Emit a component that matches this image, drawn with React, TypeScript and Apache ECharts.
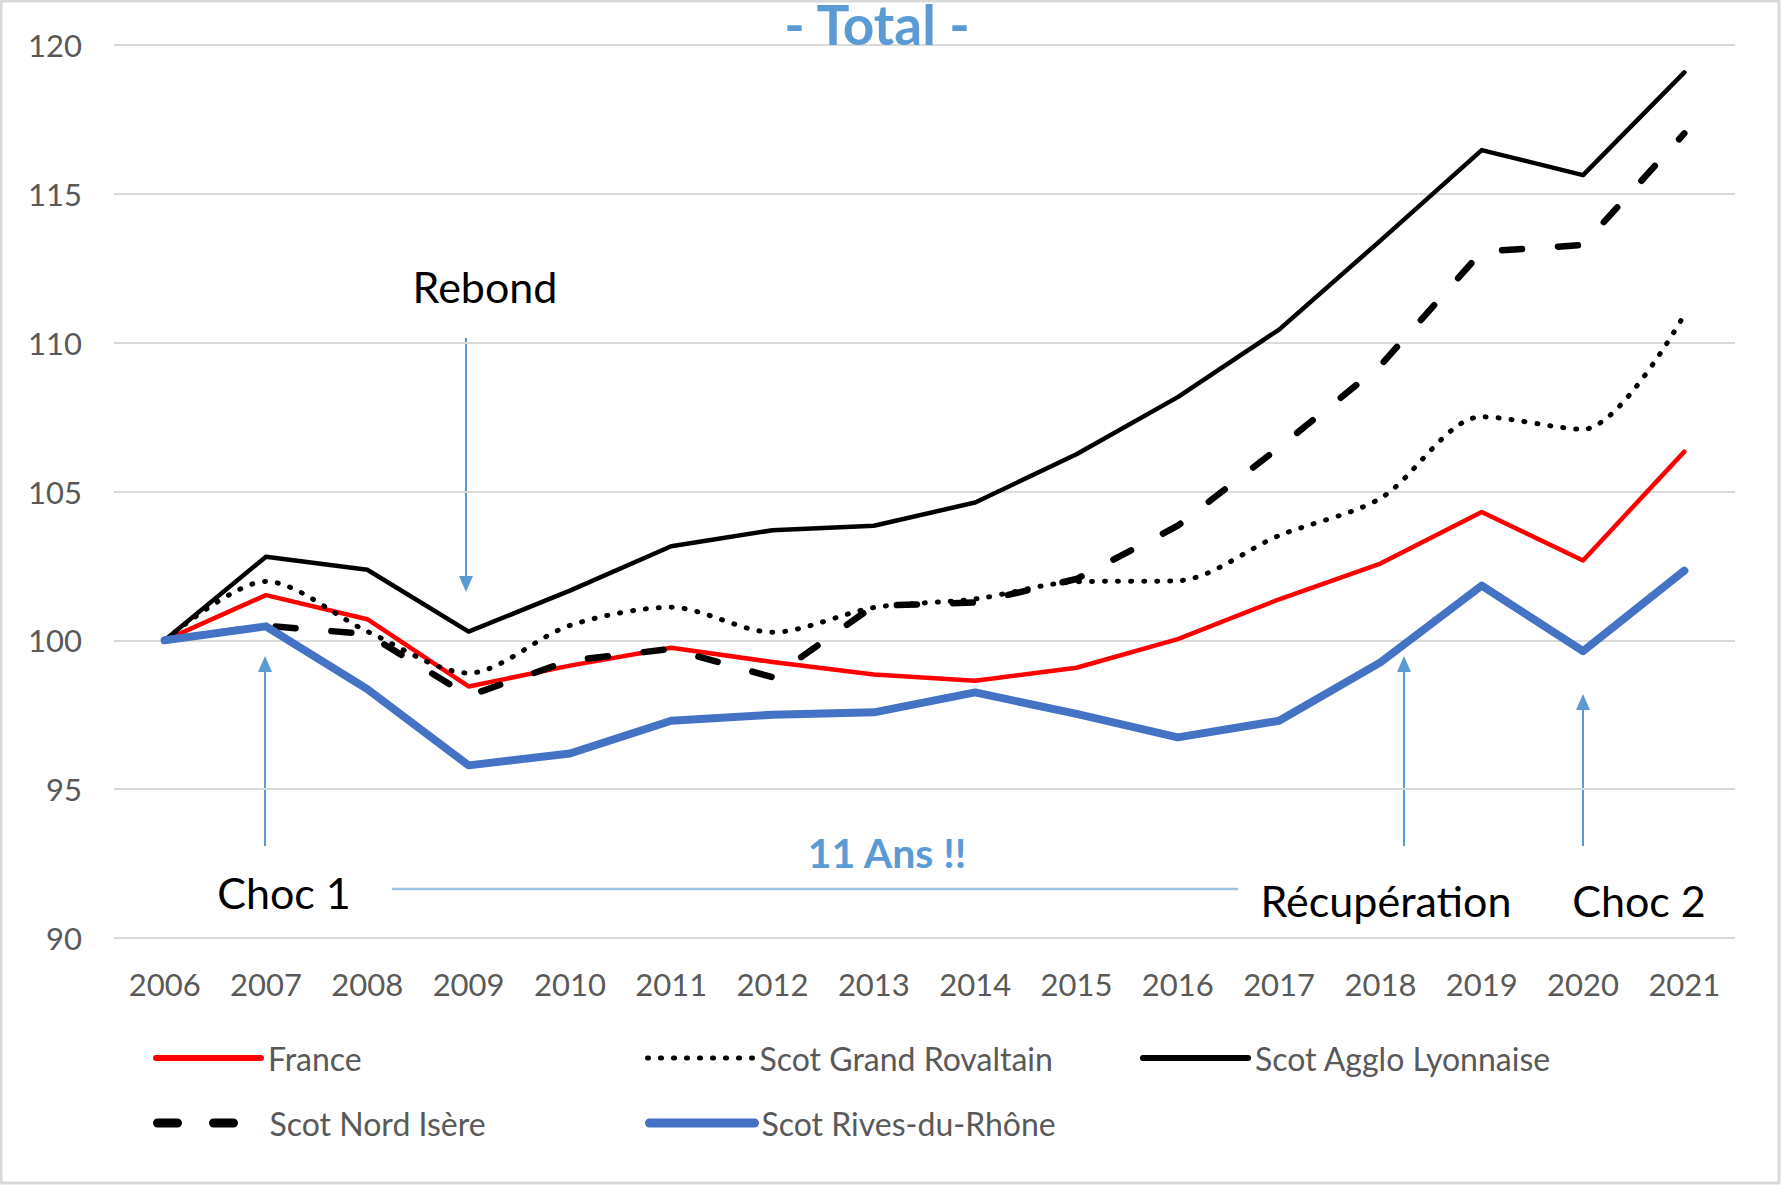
import React, { useEffect, useRef } from 'react';
import * as echarts from 'echarts';

const years = ['2006', '2007', '2008', '2009', '2010', '2011', '2012', '2013', '2014', '2015', '2016', '2017', '2018', '2019', '2020', '2021'];
const france = [100, 101.52, 100.71, 98.45, 99.15, 99.75, 99.27, 98.85, 98.64, 99.08, 100.04, 101.38, 102.58, 104.31, 102.68, 106.34];
const grandRovaltain = [100, 101.98, 100.3, 98.9, 100.5, 101.11, 100.27, 101.1, 101.39, 101.97, 102.0, 103.52, 104.77, 107.51, 107.09, 110.94];
const agglo = [100, 102.81, 102.37, 100.29, 101.67, 103.16, 103.7, 103.85, 104.63, 106.25, 108.17, 110.44, 113.43, 116.47, 115.63, 119.08];
const nordIsere = [100, 100.49, 100.21, 98.14, 99.32, 99.71, 98.76, 101.16, 101.27, 102.06, 103.85, 106.48, 109.23, 113.06, 113.28, 117.03];
const rives = [100, 100.47, 98.36, 95.8, 96.2, 97.3, 97.5, 97.58, 98.25, 97.53, 96.74, 97.3, 99.26, 101.84, 99.64, 102.34];

const seriesNames = ['France', 'Scot Grand Rovaltain', 'Scot Agglo Lyonnaise', 'Scot Nord Isère', 'Scot Rives-du-Rhône'];

export default function App() {
  const ref = useRef<HTMLDivElement>(null);
  useEffect(() => {
    const chart = echarts.init(ref.current!, null, { renderer: 'svg' });
    const font = 'Lato, "Open Sans", sans-serif';
    const blue = '#5b9bd5';
    const arrow = (x: number, yFrom: number, yTip: number) => {
      const dir = yTip < yFrom ? 1 : -1;
      return [
        { type: 'line', shape: { x1: x, y1: yFrom, x2: x, y2: yTip + dir * 12 }, style: { stroke: blue, lineWidth: 2 } },
        { type: 'polygon', shape: { points: [[x - 7, yTip + dir * 16], [x + 7, yTip + dir * 16], [x, yTip]] }, style: { fill: blue } },
      ];
    };
    const annot = (text: string, x: number, y: number, extra: any = {}) => ({
      type: 'text',
      style: { text, x, y, textAlign: 'center', textVerticalAlign: 'middle', fill: '#000', fontSize: 43, fontFamily: font, ...extra },
    });
    const legendBase = {
      orient: 'horizontal', itemWidth: 105, itemHeight: 20, padding: 0, selectedMode: false,
      itemStyle: { color: 'rgba(0,0,0,0)', borderWidth: 0, opacity: 0 },
      textStyle: { fontSize: 32, color: '#595959', fontFamily: font, padding: [0, 0, 0, 2] },
    };
    chart.setOption({
      animation: false,
      backgroundColor: '#fff',
      grid: { left: 114, right: 46, top: 45, bottom: 247 },
      xAxis: {
        type: 'category',
        data: years,
        boundaryGap: true,
        axisLine: { show: false },
        axisTick: { show: false },
        axisLabel: { fontSize: 31, color: '#595959', fontFamily: font, margin: 30 },
      },
      yAxis: {
        type: 'value',
        min: 90,
        max: 120,
        interval: 5,
        axisLine: { show: false },
        axisTick: { show: false },
        axisLabel: { fontSize: 31, color: '#595959', fontFamily: font, margin: 32 },
        splitLine: { lineStyle: { color: '#d9d9d9', width: 2 } },
      },
      legend: [
        { ...legendBase, data: [seriesNames[0]], left: 153, top: 1042, lineStyle: { width: 6 } },
        { ...legendBase, data: [seriesNames[1]], left: 645, top: 1042, lineStyle: { width: 5 } },
        { ...legendBase, data: [seriesNames[2]], left: 1140, top: 1042, lineStyle: { width: 6 } },
        { ...legendBase, data: [seriesNames[3]], left: 153, top: 1107, lineStyle: { width: 9 } },
        { ...legendBase, data: [seriesNames[4]], left: 645, top: 1107, lineStyle: { width: 9 } },
      ],
      series: [
        { name: seriesNames[0], type: 'line', data: france, symbol: 'none', lineStyle: { color: '#ff0000', width: 4.5, cap: 'round', join: 'round' }, itemStyle: { color: '#ff0000' } },
        { name: seriesNames[1], type: 'line', data: grandRovaltain, symbol: 'none', smooth: 0.3, lineStyle: { color: '#000', width: 5, type: [1, 12], cap: 'round', join: 'round' }, itemStyle: { color: '#000' } },
        { name: seriesNames[2], type: 'line', data: agglo, symbol: 'none', lineStyle: { color: '#000', width: 4.5, cap: 'round', join: 'round' }, itemStyle: { color: '#000' } },
        { name: seriesNames[3], type: 'line', data: nordIsere, symbol: 'none', lineStyle: { color: '#000', width: 6.5, type: [20, 36], cap: 'round', join: 'round' }, itemStyle: { color: '#000' } },
        { name: seriesNames[4], type: 'line', data: rives, symbol: 'none', lineStyle: { color: '#4472c4', width: 8, cap: 'round', join: 'round' }, itemStyle: { color: '#4472c4' } },
      ],
      graphic: [
        { type: 'rect', shape: { x: 1, y: 1, width: 1778, height: 1182 }, style: { fill: 'none', stroke: '#d9d9d9', lineWidth: 3 }, silent: true },
        { type: 'text', z: 100, style: { text: '- Total -', x: 877, y: 24, textAlign: 'center', textVerticalAlign: 'middle', fill: blue, fontSize: 55, fontWeight: 'bold', fontFamily: font } },
        annot('Rebond', 485, 286),
        annot('Choc 1', 284, 892),
        annot('Récupération', 1386, 900),
        annot('Choc 2', 1639, 900),
        annot('11 Ans !!', 887, 852, { fill: blue, fontWeight: 'bold', fontSize: 41 }),
        { type: 'line', shape: { x1: 392, y1: 889, x2: 1238, y2: 889 }, style: { stroke: '#9cc2e5', lineWidth: 2.5 } },
        ...arrow(466, 338, 592),
        ...arrow(265, 846, 656),
        ...arrow(1404, 846, 656),
        ...arrow(1583, 846, 694),
      ],
    });
    return () => chart.dispose();
  }, []);
  return <div ref={ref} style={{ position: 'fixed', left: 0, top: 0, width: 1781, height: 1185, background: '#fff' }} />;
}
